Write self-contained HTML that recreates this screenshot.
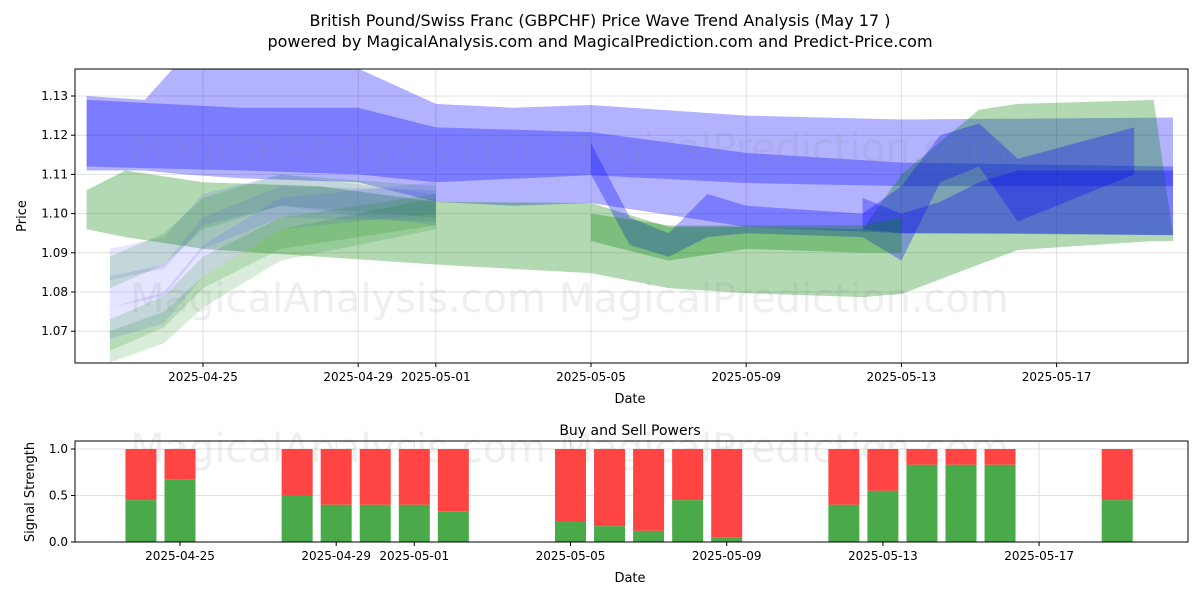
<!DOCTYPE html>
<html><head><meta charset="utf-8"><style>
body{margin:0;background:#fff;font-family:"Liberation Sans","DejaVu Sans",sans-serif;}
svg text{font-family:"DejaVu Sans","Liberation Sans",sans-serif;}
</style></head><body>
<svg id="chart" width="1200" height="600" xmlns="http://www.w3.org/2000/svg">
<text x="600" y="26" text-anchor="middle" font-size="16">British Pound/Swiss Franc (GBPCHF) Price Wave Trend Analysis (May 17 )</text>
<text x="600" y="47" text-anchor="middle" font-size="16">powered by MagicalAnalysis.com and MagicalPrediction.com and Predict-Price.com</text>
<g id="ptop"></g>
<g id="pbot"></g>
</svg>
<script>
// ---- data ----
const tickDays=[0,4,6,10,14,18,22];
const tickLabels=["2025-04-25","2025-04-29","2025-05-01","2025-05-05","2025-05-09","2025-05-13","2025-05-17"];
const priceTicks=[1.07,1.08,1.09,1.10,1.11,1.12,1.13];
const bandDays=[
 [-3,-1.5,-0.5,1,4,6,8,10,14,18,25],
 [-3,1,4,6,10,14,18,25],
 [-3,-2,0,3,6,10,12,14,17,18,20,21,24.5,25],
 [17,18,19,20,21,25],
 [10,11,12,13,14,17,18,19,20,21,24],
 [10,12,14,17,18]];
const bandUpper=[
 [1.130,1.129,1.140,1.140,1.137,1.128,1.127,1.1277,1.125,1.124,1.1245],
 [1.129,1.127,1.127,1.122,1.1208,1.1155,1.113,1.112],
 [1.106,1.111,1.108,1.107,1.103,1.1027,1.0966,1.0966,1.096,1.110,1.1265,1.128,1.129,1.0945],
 [1.104,1.100,1.103,1.108,1.111,1.111],
 [1.118,1.099,1.095,1.105,1.102,1.100,1.107,1.120,1.123,1.114,1.122],
 [1.100,1.097,1.097,1.097,1.099]];
const bandLower=[
 [1.111,1.111,1.110,1.109,1.108,1.103,1.102,1.1027,1.0966,1.095,1.0945],
 [1.112,1.111,1.110,1.108,1.1098,1.1078,1.107,1.107],
 [1.096,1.094,1.091,1.089,1.087,1.0848,1.081,1.0797,1.0787,1.0795,1.087,1.0907,1.093,1.093],
 [1.096,1.095,1.095,1.095,1.095,1.0945],
 [1.110,1.092,1.089,1.094,1.095,1.094,1.088,1.108,1.112,1.098,1.110],
 [1.093,1.088,1.091,1.090,1.090]];
const bandColor=["blue","blue","green","blue","blue","green"];
const strandDays=[-2.4,-1,0,2,6];
const strandCenters=[
 [1.087,1.090,1.101,1.106,1.101],
 [1.080,1.083,1.095,1.103,1.102],
 [1.085,1.091,1.100,1.106,1.103],
 [1.066,1.071,1.080,1.092,1.100],
 [1.072,1.076,1.088,1.100,1.104],
 [1.069,1.075,1.085,1.095,1.101]];
const strandColor=["blue","blue","green","green","blue","green"];
const barDays=[-1,0,3,4,5,6,7,10,11,12,13,14,17,18,19,20,21,24];
const buyPower=[0.45,0.67,0.5,0.4,0.4,0.4,0.33,0.22,0.17,0.12,0.45,0.05,0.4,0.55,0.83,0.83,0.83,0.45];
// ---- scales ----
const NS="http://www.w3.org/2000/svg";
const X=d=>203+38.8*d, Y=v=>96+(1.13-v)*3920;
const XB=d=>180+39.05*d, YB=v=>542-93*v;
function mk(p,t,a){const e=document.createElementNS(NS,t);for(const k in a)e.setAttribute(k,a[k]);p.appendChild(e);return e;}
const pTop=document.getElementById('ptop'),pBot=document.getElementById('pbot');
const L=75,R=1188,T=69,B=363;
tickDays.forEach(d=>{const g=mk(pTop,'line',{x1:X(d),x2:X(d),y1:T,y2:B,stroke:'#e0e0e0'});});
priceTicks.forEach(v=>{const g=mk(pTop,'line',{x1:L,x2:R,y1:Y(v),y2:Y(v),stroke:'#e0e0e0'});});
const col={blue:'rgba(0,0,255,0.3)',green:'rgba(0,128,0,0.3)'};
const lcol={blue:'rgba(80,80,255,0.15)',green:'rgba(0,128,0,0.15)'};
const clipD=mk(pTop,'clipPath',{id:'clipTop'});mk(clipD,'rect',{x:L,y:T,width:R-L,height:B-T});
const bandsG=mk(pTop,'g',{'clip-path':'url(#clipTop)'});
bandDays.forEach((ds,i)=>{
 let pts=ds.map((d,j)=>X(d)+','+Y(bandUpper[i][j]));
 pts=pts.concat(ds.map((d,j)=>X(d)+','+Y(bandLower[i][j])).reverse());
 const p=mk(bandsG,'polygon',{points:pts.join(' '),fill:col[bandColor[i]]});
 
});
strandCenters.forEach((cs,i)=>{
 let pts=strandDays.map((d,j)=>X(d)+','+Y(cs[j]+0.004));
 pts=pts.concat(strandDays.map((d,j)=>X(d)+','+Y(cs[j]-0.004)).reverse());
 const p=mk(bandsG,'polygon',{points:pts.join(' '),fill:lcol[strandColor[i]]});
 
});
function wm(p,y,s){const t=mk(p,'text',{x:L+55,y:y,'font-size':s,fill:'rgba(128,128,128,0.13)'});t.textContent='MagicalAnalysis.com    MagicalPrediction.com';}
wm(pTop,162,40);wm(pTop,312,40);
mk(pTop,'rect',{x:L,y:T,width:R-L,height:B-T,fill:'none',stroke:'#000'});
tickDays.forEach((d,i)=>{mk(pTop,'line',{x1:X(d),x2:X(d),y1:B,y2:B+4,stroke:'#000'});const t=mk(pTop,'text',{x:X(d),y:B+18,'text-anchor':'middle','font-size':12});t.textContent=tickLabels[i];});
priceTicks.forEach(v=>{mk(pTop,'line',{x1:L-4,x2:L,y1:Y(v),y2:Y(v),stroke:'#000'});const t=mk(pTop,'text',{x:L-7,y:Y(v)+4,'text-anchor':'end','font-size':12});t.textContent=v.toFixed(2);});
let tx=mk(pTop,'text',{x:630,y:403,'text-anchor':'middle','font-size':13});tx.textContent='Date';
tx=mk(pTop,'text',{x:26,y:216,'text-anchor':'middle','font-size':13,transform:'rotate(-90 26 216)'});tx.textContent='Price';
const BT=441,BB=542;
[0,0.5,1].forEach(v=>{const g=mk(pBot,'line',{x1:L,x2:R,y1:YB(v),y2:YB(v),stroke:'#e0e0e0'});});
tickDays.forEach(d=>{const g=mk(pBot,'line',{x1:XB(d),x2:XB(d),y1:BT,y2:BB,stroke:'#e0e0e0'});});
wm(pBot,462,40);
barDays.forEach((d,i)=>{
 const cx=XB(d),w=31;
 const s=mk(pBot,'rect',{x:cx-w/2,y:YB(1),width:w,height:YB(buyPower[i])-YB(1),fill:'#ff4444'});
 
 const b=mk(pBot,'rect',{x:cx-w/2,y:YB(buyPower[i]),width:w,height:YB(0)-YB(buyPower[i]),fill:'#4aaa4a'});
 
});
mk(pBot,'rect',{x:L,y:BT,width:R-L,height:BB-BT,fill:'none',stroke:'#000'});
tickDays.forEach((d,i)=>{mk(pBot,'line',{x1:XB(d),x2:XB(d),y1:BB,y2:BB+4,stroke:'#000'});const t=mk(pBot,'text',{x:XB(d),y:BB+18,'text-anchor':'middle','font-size':12});t.textContent=tickLabels[i];});
[0,0.5,1].forEach(v=>{mk(pBot,'line',{x1:L-4,x2:L,y1:YB(v),y2:YB(v),stroke:'#000'});const t=mk(pBot,'text',{x:L-7,y:YB(v)+4,'text-anchor':'end','font-size':12});t.textContent=v.toFixed(1);});
tx=mk(pBot,'text',{x:630,y:582,'text-anchor':'middle','font-size':13});tx.textContent='Date';
tx=mk(pBot,'text',{x:34,y:492,'text-anchor':'middle','font-size':13,transform:'rotate(-90 34 492)'});tx.textContent='Signal Strength';
tx=mk(pBot,'text',{x:630,y:435,'text-anchor':'middle','font-size':14});tx.textContent='Buy and Sell Powers';
</script>
</body></html>
